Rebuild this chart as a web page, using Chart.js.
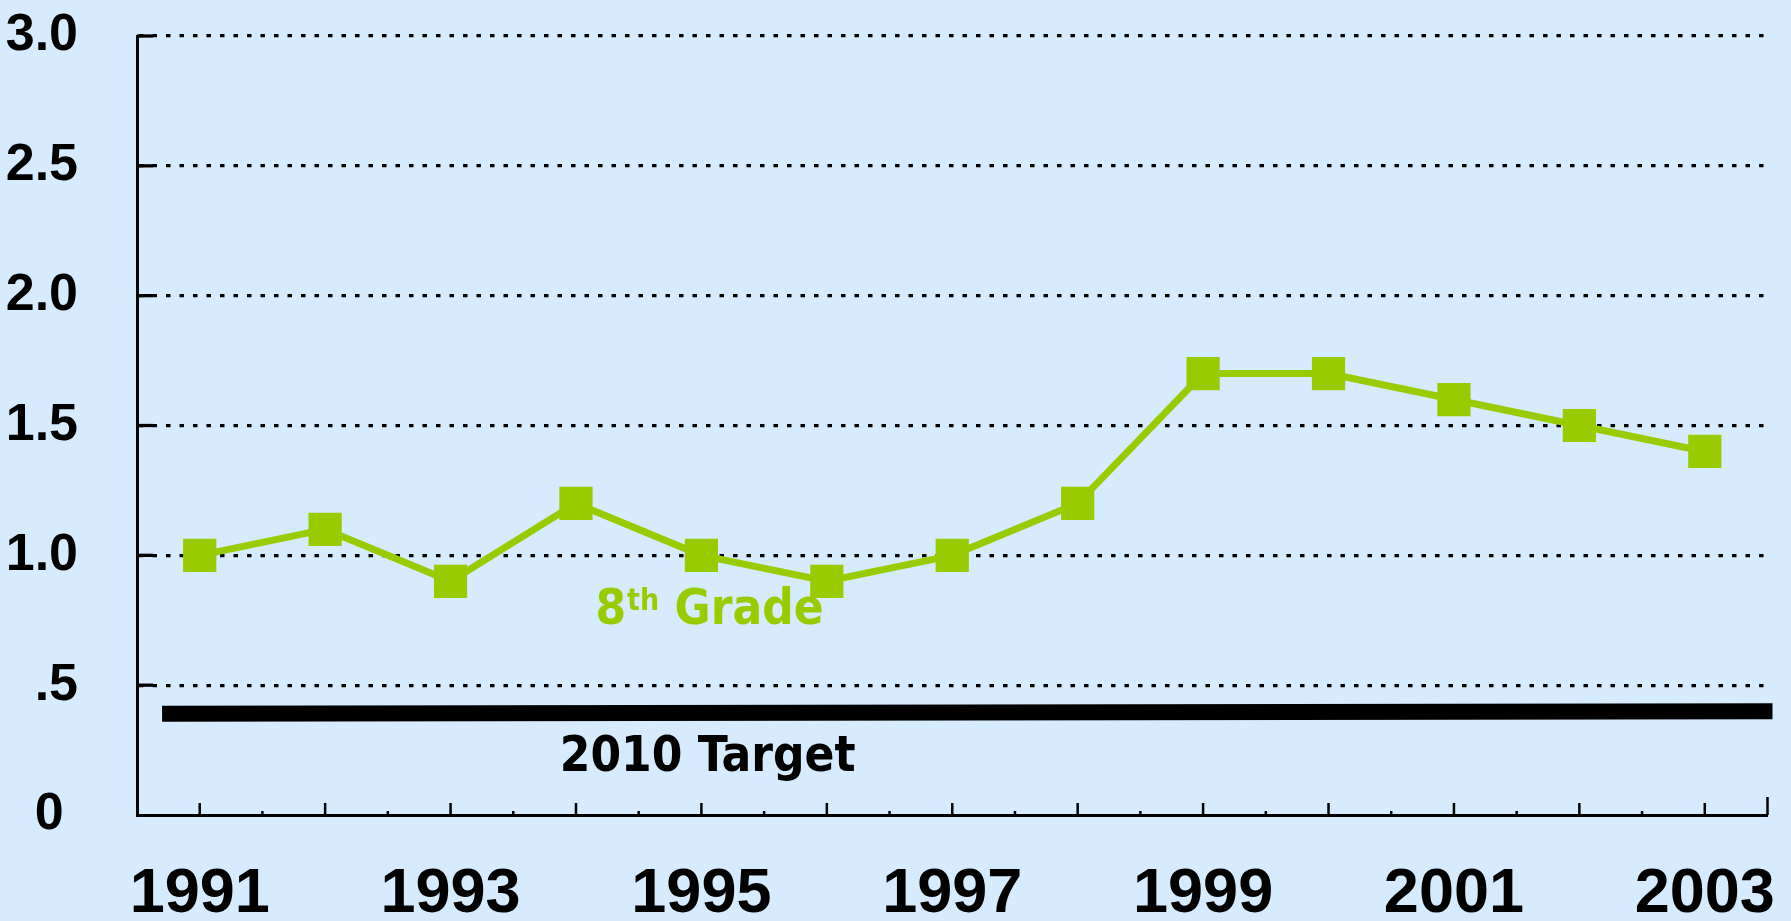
<!DOCTYPE html>
<html>
<head>
<meta charset="utf-8">
<script src="https://cdn.jsdelivr.net/npm/chart.js@4/dist/chart.umd.min.js"></script>
<style>
html,body{margin:0;padding:0;background:#D6EBFE;}
#wrap{width:1791px;height:921px;position:relative;}
canvas{display:block;}
</style>
</head>
<body>
<div id="wrap"><canvas id="c" width="1791" height="921"></canvas></div>
<script>
// ---- data ----
const years = [1991,1992,1993,1994,1995,1996,1997,1998,1999,2000,2001,2002,2003];
const grade8 = [1.0,1.1,0.9,1.2,1.0,0.9,1.0,1.2,1.7,1.7,1.6,1.5,1.4];
const targetX = [1990.7, 2003.54];
const targetY = [0.39, 0.40];
const yTickValues = [0,0.5,1.0,1.5,2.0,2.5,3.0];
const yTickLabels = ["0 ", ".5", "1.0", "1.5", "2.0", "2.5", "3.0"];
const xTickLabels = ["1991","1993","1995","1997","1999","2001","2003"];
const seriesLabel = ["8", "th", " Grade"];
const targetLabel = "2010 Target";

const GREEN = '#99CC00';
const BLACK = '#000000';

function zeroPad(s) { s.paddingTop = 0; s.paddingBottom = 0; s.paddingLeft = 0; s.paddingRight = 0; }

const tickPlugin = {
  id: 'tickMarks',
  afterDraw(chart) {
    const ctx = chart.ctx;
    const xs = chart.scales.x, ys = chart.scales.y;
    const y0 = ys.getPixelForValue(0);
    const x0 = xs.getPixelForValue(xs.min);
    ctx.save();
    ctx.strokeStyle = BLACK;
    ctx.lineWidth = 2.5;
    for (let v = xs.min + 0.5; v <= xs.max + 1e-9; v += 0.5) {
      const px = xs.getPixelForValue(v);
      let len = Math.abs(v - Math.round(v)) < 1e-6 ? 12 : 4;
      if (Math.abs(v - xs.max) < 1e-6) len = 18;
      ctx.beginPath();
      ctx.moveTo(px, y0);
      ctx.lineTo(px, y0 - len);
      ctx.stroke();
    }
    ctx.lineWidth = 3.3;
    yTickValues.forEach(v => {
      if (v === 0) return;
      const py = ys.getPixelForValue(v);
      ctx.beginPath();
      ctx.moveTo(x0, py);
      ctx.lineTo(x0 + 16, py);
      ctx.stroke();
    });
    const fam = '"DejaVu Sans Condensed", "DejaVu Sans", sans-serif';
    ctx.textBaseline = 'alphabetic';
    ctx.textAlign = 'left';
    ctx.fillStyle = GREEN;
    let lx = xs.getPixelForValue(1994.155);
    const ly = ys.getPixelForValue(0.735);
    ctx.font = 'bold 49px ' + fam;
    ctx.fillText(seriesLabel[0], lx, ly);
    lx += ctx.measureText(seriesLabel[0]).width + 1;
    ctx.font = 'bold 30px ' + fam;
    ctx.fillText(seriesLabel[1], lx, ly - 14);
    lx += ctx.measureText(seriesLabel[1]).width;
    ctx.font = 'bold 49px ' + fam;
    ctx.fillText(seriesLabel[2], lx, ly);
    ctx.fillStyle = BLACK;
    ctx.textAlign = 'center';
    ctx.font = 'bold 49px ' + fam;
    ctx.fillText(targetLabel, xs.getPixelForValue(1995.05), ys.getPixelForValue(0.17));
    ctx.restore();
  }
};

new Chart(document.getElementById('c'), {
  type: 'line',
  data: {
    datasets: [
      {
        label: '2010 Target',
        data: targetX.map((x, i) => ({x, y: targetY[i]})),
        borderColor: BLACK,
        borderWidth: 16,
        pointRadius: 0,
        tension: 0,
        clip: false,
        borderCapStyle: 'butt'
      },
      {
        label: '8th Grade',
        data: years.map((x, i) => ({x, y: grade8[i]})),
        borderColor: GREEN,
        backgroundColor: GREEN,
        borderWidth: 7,
        pointStyle: 'rect',
        pointRadius: 23.5,
        pointBorderWidth: 0,
        pointBackgroundColor: GREEN,
        tension: 0,
        clip: false
      }
    ]
  },
  options: {
    responsive: false,
    animation: false,
    devicePixelRatio: 1,
    layout: { padding: { top: 36, right: 18, left: 0, bottom: 0 } },
    plugins: { legend: { display: false }, tooltip: { enabled: false } },
    scales: {
      x: {
        type: 'linear',
        min: 1990.5,
        max: 2003.5,
        afterBuildTicks: (s) => { s.ticks = xTickLabels.map(l => ({ value: Number(l) })); },
        afterFit: (s) => { s.height = 106; zeroPad(s); },
        grid: { display: false, drawTicks: false },
        border: { display: true, color: BLACK, width: 3 },
        ticks: {
          autoSkip: false,
          maxRotation: 0,
          padding: 42,
          color: BLACK,
          font: { family: '"Liberation Sans", Arial, sans-serif', size: 63, weight: 'bold' },
          callback: (v) => String(v)
        }
      },
      y: {
        min: 0,
        max: 3,
        afterBuildTicks: (s) => { s.ticks = yTickValues.map(v => ({ value: v })); },
        afterFit: (s) => { s.width = 137; zeroPad(s); },
        grid: {
          drawTicks: false,
          color: (c) => (c.tick && c.tick.value === 0) ? 'rgba(0,0,0,0)' : BLACK,
          lineWidth: 3.3
        },
        border: { display: true, color: BLACK, width: 3, dash: [4.5, 9] },
        ticks: {
          padding: 59,
          color: BLACK,
          font: { family: '"Liberation Sans", Arial, sans-serif', size: 52, weight: 'bold' },
          callback: (v) => yTickLabels[yTickValues.indexOf(v)]
        }
      }
    }
  },
  plugins: [tickPlugin]
});
</script>
</body>
</html>
